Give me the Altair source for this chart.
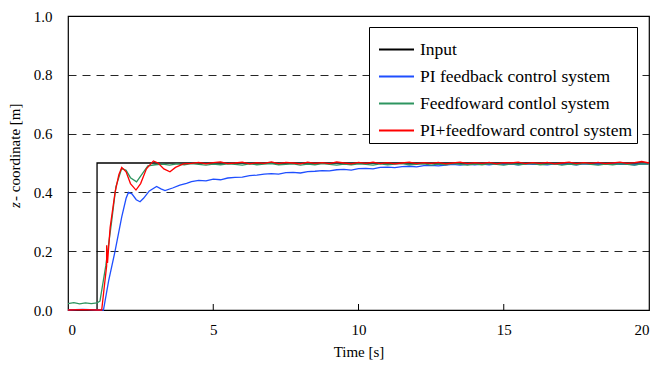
import altair as alt
import pandas as pd

NAMES = ["Input", "PI feedback control system", "Feedfoward contlol system", "PI+feedfoward control system"]
COLORS = ["#000000", "#1f4fff", "#2e9560", "#ff0000"]

# Input (step)
t_in = [0.0, 1.0, 1.0, 20.0]
z_in = [0.0, 0.0, 0.5, 0.5]

# PI feedback control system
t_fb = [0.0, 0.5, 1.0, 1.22, 1.4, 1.62, 1.85, 2.0, 2.08, 2.2, 2.35, 2.48, 2.6, 2.8, 3.05, 3.2, 3.34, 3.6, 3.85, 4.08,
        4.25, 4.5, 4.75, 5.0, 5.25, 5.5, 5.75, 6.0, 6.25, 6.5, 6.75, 7.0, 7.25, 7.5, 7.75, 8.0, 8.25, 8.5, 8.75, 9.0,
        9.25, 9.5, 9.75, 10.0, 10.25, 10.5, 10.75, 11.0, 11.25, 11.5, 11.75, 12.0, 12.25, 12.5, 12.75, 13.0, 13.25,
        13.5, 13.75, 14.0, 14.25, 14.5, 14.75, 15.0, 15.25, 15.5, 15.75, 16.0, 16.25, 16.5, 16.75, 17.0, 17.25, 17.5,
        17.75, 18.0, 18.25, 18.5, 18.75, 19.0, 19.25, 19.5, 19.75, 20.0]
z_fb = [0.0, 0.002, 0.0, 0.0, 0.10, 0.20, 0.317, 0.38, 0.40, 0.395, 0.375, 0.368, 0.38, 0.405, 0.42, 0.412, 0.406, 0.415, 0.425, 0.431,
        0.437, 0.441, 0.439, 0.445, 0.443, 0.449, 0.451, 0.452, 0.457, 0.459, 0.462, 0.464, 0.462, 0.467, 0.468, 0.466, 0.471, 0.472, 0.474, 0.473,
        0.477, 0.478, 0.476, 0.481, 0.482, 0.480, 0.485, 0.486, 0.484, 0.488, 0.489, 0.487, 0.491, 0.492, 0.490, 0.493, 0.495,
        0.493, 0.496, 0.494, 0.496, 0.494, 0.497, 0.495, 0.496, 0.494, 0.497, 0.495, 0.496, 0.494, 0.497, 0.495, 0.496, 0.494,
        0.497, 0.495, 0.496, 0.495, 0.497, 0.495, 0.496, 0.494, 0.497, 0.496]

# Feedfoward control system
t_ff = [0.0, 0.2, 0.4, 0.6, 0.8, 1.0, 1.1, 1.3, 1.5, 1.65, 1.85, 2.0, 2.15, 2.36, 2.5, 2.75, 3.0,
        3.25, 3.5, 3.75, 4.0, 4.25, 4.5, 4.75, 5.0, 5.25, 5.5, 5.75, 6.0, 6.25, 6.5, 6.75, 7.0, 7.25, 7.5, 7.75, 8.0,
        8.25, 8.5, 8.75, 9.0, 9.25, 9.5, 9.75, 10.0, 10.25, 10.5, 10.75, 11.0, 11.25, 11.5, 11.75, 12.0, 12.25, 12.5,
        12.75, 13.0, 13.25, 13.5, 13.75, 14.0, 14.25, 14.5, 14.75, 15.0, 15.25, 15.5, 15.75, 16.0, 16.25, 16.5, 16.75,
        17.0, 17.25, 17.5, 17.75, 18.0, 18.25, 18.5, 18.75, 19.0, 19.25, 19.5, 19.75, 20.0]
z_ff = [0.022, 0.025, 0.021, 0.024, 0.022, 0.024, 0.03, 0.15, 0.30, 0.42, 0.482, 0.475, 0.45, 0.436, 0.455, 0.49, 0.494,
        0.496, 0.493, 0.497, 0.494, 0.498, 0.495, 0.493, 0.496, 0.494, 0.497, 0.495, 0.493, 0.497, 0.494, 0.496, 0.498,
        0.494, 0.495, 0.497, 0.493, 0.496, 0.494, 0.498, 0.495, 0.493, 0.496, 0.494, 0.497, 0.495, 0.493, 0.497, 0.494,
        0.496, 0.498, 0.494, 0.495, 0.497, 0.493, 0.496, 0.494, 0.498, 0.495, 0.493, 0.496, 0.494, 0.497, 0.495, 0.493,
        0.497, 0.494, 0.496, 0.498, 0.494, 0.495, 0.497, 0.493, 0.496, 0.494, 0.498, 0.495, 0.493, 0.496, 0.494, 0.497,
        0.495, 0.493, 0.497, 0.496]

# PI+feedfoward control system
t_pf = [0.0, 0.5, 1.0, 1.16, 1.25, 1.33, 1.33, 1.36, 1.45, 1.62, 1.75, 1.85, 2.0, 2.15, 2.34, 2.5, 2.7, 2.94, 3.1,
        3.3, 3.51, 3.7, 3.97, 4.25, 4.5, 4.75, 5.0, 5.25, 5.5, 5.75, 6.0, 6.25, 6.5, 6.75, 7.0, 7.25, 7.5, 7.75, 8.0,
        8.25, 8.5, 8.75, 9.0, 9.25, 9.5, 9.75, 10.0, 10.25, 10.5, 10.75, 11.0, 11.25, 11.5, 11.75, 12.0, 12.25, 12.5,
        12.75, 13.0, 13.25, 13.5, 13.75, 14.0, 14.25, 14.5, 14.75, 15.0, 15.25, 15.5, 15.75, 16.0, 16.25, 16.5, 16.75,
        17.0, 17.25, 17.5, 17.75, 18.0, 18.25, 18.5, 18.75, 19.0, 19.25, 19.5, 19.75, 20.0]
z_pf = [0.0, 0.001, 0.0, 0.0, 0.08, 0.15, 0.22, 0.16, 0.28, 0.40, 0.46, 0.485, 0.47, 0.43, 0.408, 0.43, 0.48, 0.507, 0.50,
        0.48, 0.47, 0.485, 0.497, 0.499, 0.502, 0.497, 0.501, 0.504, 0.498, 0.500, 0.503, 0.497, 0.501, 0.499, 0.504, 0.498,
        0.502, 0.500, 0.497, 0.503, 0.499, 0.501, 0.498, 0.504, 0.500, 0.497, 0.502, 0.499, 0.503, 0.498, 0.501, 0.497,
        0.500, 0.503, 0.498, 0.501, 0.499, 0.502, 0.497, 0.500, 0.503, 0.498, 0.501, 0.499, 0.502, 0.497, 0.501, 0.500,
        0.503, 0.498, 0.501, 0.499, 0.502, 0.497, 0.500, 0.503, 0.498, 0.501, 0.499, 0.502, 0.498, 0.500, 0.503, 0.499,
        0.501, 0.505, 0.500]

x_ticks = [5, 10, 15]
x_labels = [0, 5, 10, 15, 20]
y_ticks = [0.0, 0.2, 0.4, 0.6, 0.8, 1.0]

rows = []
for name, ts, zs in zip(NAMES, [t_in, t_fb, t_ff, t_pf], [z_in, z_fb, z_ff, z_pf]):
    for i, (t, z) in enumerate(zip(ts, zs)):
        rows.append({"series": name, "t": t, "z": z, "idx": i})
df = pd.DataFrame(rows)

FONT = "Liberation Serif"

lines = alt.Chart(df).mark_line(strokeWidth=1.3).encode(
    x=alt.X("t:Q", scale=alt.Scale(domain=[0, 20], nice=False),
            axis=alt.Axis(values=x_labels, title="Time [s]", grid=False, ticks=False,
                          domain=False, labelPadding=12, titlePadding=7,
                          labelFont=FONT, labelFontSize=15, labelColor="#000000",
                          titleFont=FONT, titleFontSize=15, titleColor="#000000", titleFontWeight="normal")),
    y=alt.Y("z:Q", scale=alt.Scale(domain=[0, 1], nice=False),
            axis=alt.Axis(values=y_ticks, format=".1f", title=None, grid=True, gridDash=[8, 6],
                          gridColor="#000000", gridOpacity=0.85, gridWidth=1, ticks=False, domain=False,
                          labelPadding=16, labelFont=FONT, labelFontSize=15, labelColor="#000000")),
    color=alt.Color("series:N", scale=alt.Scale(domain=NAMES, range=COLORS),
                    legend=alt.Legend(title=None, orient="none", legendX=301, legendY=11,
                                      symbolType="stroke", symbolSize=1225, symbolStrokeWidth=2,
                                      symbolOffset=5,
                                      labelFontSize=17.5, labelFont=FONT, labelColor="#000000",
                                      labelLimit=400, labelOffset=5, rowPadding=0,
                                      padding=4, strokeColor="#000000", fillColor="#ffffff",
                                      cornerRadius=0)),
    order=alt.Order("idx:Q"),
)

ticks = alt.Chart(pd.DataFrame({"t": x_ticks})).mark_rule(color="#000000", strokeWidth=1).encode(
    x="t:Q", y=alt.value(288), y2=alt.value(294))

title_z = alt.Chart(pd.DataFrame({"s": ["z"]})).mark_text(
    angle=270, align="left", baseline="middle", font=FONT, fontSize=15, fontStyle="italic", color="#000000"
).encode(x=alt.value(-53), y=alt.value(192), text="s:N")
title_rest = alt.Chart(pd.DataFrame({"s": ["- coordinate [m]"]})).mark_text(
    angle=270, align="left", baseline="middle", font=FONT, fontSize=15, color="#000000"
).encode(x=alt.value(-53), y=alt.value(185), text="s:N")

chart = alt.layer(ticks, lines, title_z, title_rest).properties(
    width=581, height=294,
    background="#ffffff",
    autosize=alt.AutoSizeParams(type="none"),
    padding={"left": 68, "top": 16, "right": 19, "bottom": 62},
).configure_view(stroke="#000000", strokeWidth=1.2)

chart.save("out.html", embed_options={"renderer": "svg", "actions": False})
